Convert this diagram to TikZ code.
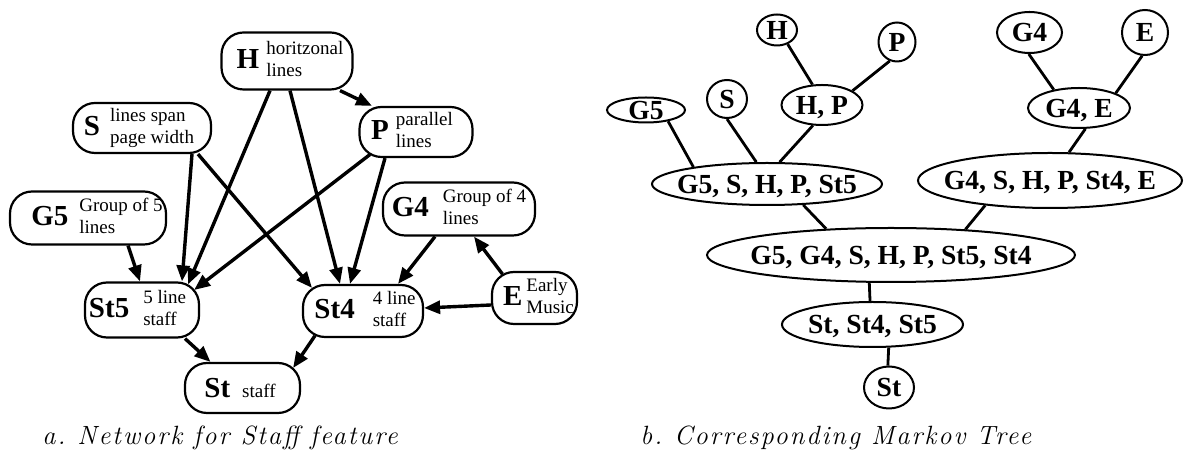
\documentclass[tikz,border=0pt]{standalone}
\usepackage{fontspec}
\newfontfamily\tms{Liberation Serif}
\newfontfamily\capfont{lmroman12-italic.otf}[LetterSpace=7.6]
\usetikzlibrary{arrows.meta,shapes.geometric}
\newcommand{\boxtext}[5]{\hspace*{#1}{\bfseries\fontsize{14.5}{16}\selectfont #2}\hspace*{#3}\raisebox{1.6pt}{\fontsize{9.5}{11}\selectfont\begin{tabular}{@{}l@{}}#4\end{tabular}}\hspace*{#5}}
\newcommand{\ct}[1]{\makebox[0pt]{\smash{\raisebox{-4.55pt}{#1}}}}
\tikzset{
  lbox/.style={draw, line width=1.1pt, rounded corners=11pt, inner sep=0pt, font=\tms},
  rel/.style={draw, ellipse, line width=1pt, inner sep=0pt, font=\tms\bfseries\fontsize{13.8}{15}\selectfont},
  arr/.style={line width=1.7pt, -{Triangle[length=8pt,width=6.5pt]}},
  tl/.style={line width=1.4pt},
  captext/.style={anchor=base west, inner sep=0pt, font=\capfont\fontsize{13.2}{15}\selectfont}
}
\begin{document}
\begin{tikzpicture}[x=0.5pt,y=-0.5pt]
\useasboundingbox[fill=white] (0,0) rectangle (1184,453);
% ---------- left network ----------
\node[lbox, minimum width=65.5pt, minimum height=28.5pt] (H) at (287,61) {\boxtext{3pt}{H}{3.5pt}{horitzonal\\lines}{0pt}};
\node[lbox, minimum width=69pt, minimum height=25pt] (S) at (142,128) {\boxtext{0pt}{S}{5pt}{lines span\\page width}{3pt}};
\node[lbox, minimum width=56.5pt, minimum height=25pt] (P) at (416,132) {\boxtext{0pt}{P}{3.5pt}{parallel\\lines}{4pt}};
\node[lbox, minimum width=78pt, minimum height=26.5pt] (G5) at (88,218) {\boxtext{9pt}{G5}{5.5pt}{Group of 5\\lines}{0pt}};
\node[lbox, minimum width=76pt, minimum height=26.5pt] (G4) at (459,209) {\boxtext{0pt}{G4}{7pt}{Group of 4\\lines}{0pt}};
\node[lbox, minimum width=57pt, minimum height=27.5pt] (St5) at (142,310) {\boxtext{0pt}{St5}{7pt}{5 line\\staff}{4.5pt}};
\node[lbox, minimum width=60pt, minimum height=26pt] (St4) at (363,311) {\boxtext{2pt}{St4}{9pt}{4 line\\staff}{0pt}};
\node[lbox, minimum width=42.5pt, minimum height=26pt] (E) at (534.5,298) {\boxtext{4pt}{E}{2pt}{Early\\Music}{0pt}};
\node[lbox, minimum width=57.5pt, minimum height=25pt] (St) at (242.5,388) {{\bfseries\fontsize{14.5}{16}\selectfont St}\hspace*{6pt}{\fontsize{9.5}{11}\selectfont staff}\hspace*{2.5pt}};

\draw[arr] ([xshift=26.5pt]H.south) -- ([xshift=-22pt]P.north);
\draw[arr] ([xshift=-8.5pt]H.south) -- ([xshift=23pt,yshift=-1.5pt]St5.north);
\draw[arr] ([xshift=1.5pt]H.south) -- ([xshift=-11.5pt]St4.north);
\draw[arr] ([xshift=28pt]S.south) -- ([xshift=-25.5pt,yshift=-2pt]St4.north);
\draw[arr] ([xshift=25pt]S.south) -- ([xshift=20pt]St5.north);
\draw[arr] ([xshift=-23pt,yshift=1.8pt]P.south) -- ([xshift=-3pt,yshift=10pt]St5.east);
\draw[arr] ([xshift=-15.5pt]P.south) -- ([xshift=-6.5pt]St4.north);
\draw[arr] ([xshift=20pt]G5.south) -- ([xshift=-1pt]St5.north);
\draw[arr] ([xshift=-12pt]G4.south) -- ([xshift=17.5pt]St4.north);
\draw[arr] ([xshift=-16pt,yshift=-1.6pt]E.north) -- ([xshift=7.5pt]G4.south);
\draw[arr] ([yshift=-3.5pt]E.west) -- ([yshift=1.5pt]St4.east);
\draw[arr] ([xshift=21.5pt]St5.south) -- ([xshift=-16pt]St.north);
\draw[arr] ([xshift=-24pt,yshift=1.2pt]St4.south) -- ([xshift=-4pt,yshift=10pt]St.east);

\node[captext] (capa) at (42,445) {a.\hspace{0.45em}Network for Staff feature};

% ---------- right Markov tree ----------
\node[rel, minimum width=20pt, minimum height=15.5pt] (rH) at (777,30) {\ct{H}};
\node[rel, minimum width=18.5pt, minimum height=19.5pt] (rP) at (897,42) {\ct{P}};
\node[rel, minimum width=40.5pt, minimum height=20pt] (rHP) at (822,105) {\ct{H, P}};
\node[rel, minimum width=39pt, minimum height=12.5pt] (rG5) at (646,110) {\ct{G5}};
\node[rel, minimum width=20pt, minimum height=19pt] (rS) at (727,99) {\ct{S}};
\node[rel, minimum width=115pt, minimum height=21pt] (rB1) at (767,184) {\ct{G5, S, H, P, St5}};
\node[rel, minimum width=32.5pt, minimum height=20.5pt] (rG4) at (1029.5,32.5) {\ct{G4}};
\node[rel, minimum width=23pt, minimum height=22.5pt] (rE) at (1145,32.5) {\ct{E}};
\node[rel, minimum width=51pt, minimum height=20pt] (rGE) at (1079,108) {\ct{G4, E}};
\node[rel, minimum width=132pt, minimum height=27.5pt] (rB2) at (1050,180.5) {\ct{G4, S, H, P, St4, E}};
\node[rel, minimum width=184pt, minimum height=27pt] (rB) at (891,255) {\ct{G5, G4, S, H, P, St5, St4}};
\node[rel, minimum width=90.5pt, minimum height=22.5pt] (rSt3) at (872.5,324.5) {\ct{St, St4, St5}};
\node[rel, minimum width=25pt, minimum height=21pt] (rSt) at (889,387.5) {\ct{St}};

\draw[tl] (rH.-53) -- (rHP.115);
\draw[tl] (rP.-111) -- (rHP.25);
\draw[tl] (rG5.-27) -- (rB1.167);
\draw[tl] (rS.south) -- (rB1.116);
\draw[tl] (rHP.-114) -- (rB1.60);
\draw[tl] (rG4.-92) -- (rGE.144);
\draw[tl] (rE.-97) -- (rGE.22);
\draw[tl] (rGE.-73) -- (rB2.56.5);
\draw[tl] (rB1.-30) -- (rB.158);
\draw[tl] (rB2.-159) -- (rB.19);
\draw[tl] (rB.-128) -- (rSt3.96);
\draw[tl] (rSt3.-55) -- (rSt.93);

\node[captext] (capb) at (640,445) {b.\hspace{0.45em}Corresponding Markov Tree};
\end{tikzpicture}
\end{document}
